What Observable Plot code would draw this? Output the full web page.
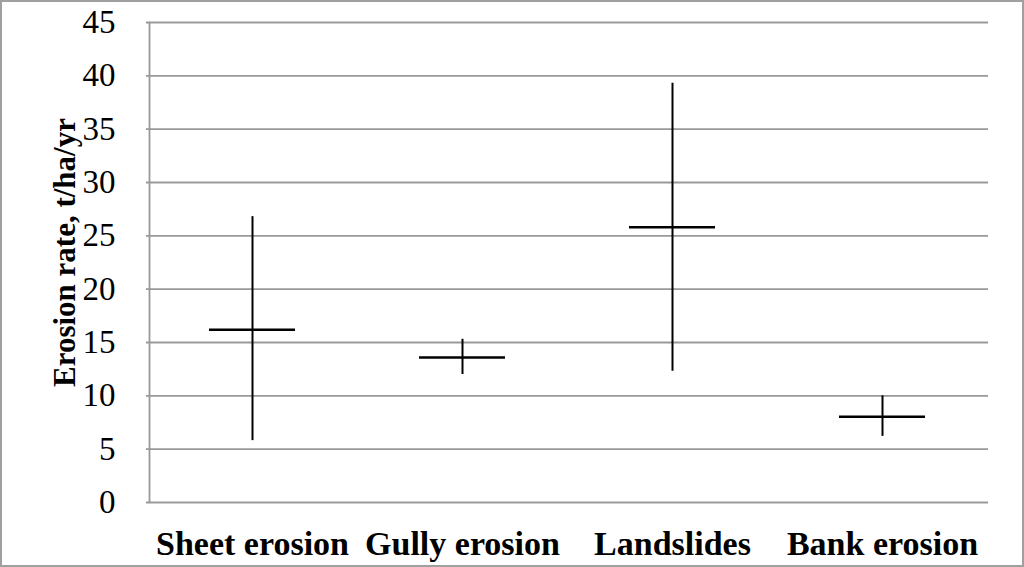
<!DOCTYPE html>
<html>
<head>
<meta charset="utf-8">
<script src="https://cdn.jsdelivr.net/npm/d3@7"></script>
<script src="https://cdn.jsdelivr.net/npm/@observablehq/plot@0.6"></script>
<style>
  html, body { margin: 0; padding: 0; background: #fff; }
  #chart svg { display: block; outline: 2px solid #a0a0a0; outline-offset: -2px; }
  #chart svg text { font-family: "Times New Roman", Times, "Liberation Serif", "DejaVu Serif", serif !important; }
</style>
</head>
<body>
<div id="chart"></div>
<script>
const categories = ["Sheet erosion", "Gully erosion", "Landslides", "Bank erosion"];
const lowValues  = [5.8, 12.0, 12.3, 6.2];
const highValues = [26.8, 15.3, 39.3, 10.0];
const meanValues = [16.2, 13.6, 25.8, 8.05];
const yTicks = [0, 5, 10, 15, 20, 25, 30, 35, 40, 45];
const yTitle = "Erosion rate, t/ha/yr";

const data = categories.map((c, i) => ({category: c, low: lowValues[i], high: highValues[i], mean: meanValues[i]}));
const serif = "'Times New Roman', Times, 'Liberation Serif', serif";

const chart = Plot.plot({
  width: 1024,
  height: 567,
  marginLeft: 146,
  marginRight: 36,
  marginTop: 22,
  marginBottom: 65,
  style: {fontFamily: serif, background: "#fff", color: "#000"},
  x: {domain: categories, padding: 0, label: null},
  y: {domain: [0, 45], ticks: yTicks, label: null},
  marks: [
    Plot.ruleY(yTicks, {stroke: "#999", strokeWidth: 1.8}),
    Plot.ruleX([categories[0]], {x: d => d, y1: 0, y2: 45, stroke: "#999", strokeWidth: 1.8, dx: -103}),
    Plot.axisY({ticks: yTicks, tickSize: 0, tickPadding: 31, fontSize: 33, tickFormat: d => String(d)}),
    Plot.axisX({tickSize: 0, tickPadding: 28, fontSize: 34, fontWeight: "bold"}),
    Plot.ruleX(data, {x: "category", y1: "low", y2: "high", stroke: "#000", strokeWidth: 2}),
    Plot.tickY(data, {x: "category", y: "mean", stroke: "#000", strokeWidth: 2.5, insetLeft: 62, insetRight: 62}),
    Plot.text([yTitle], {text: d => d, frameAnchor: "left", textAnchor: "middle", lineAnchor: "middle", rotate: -90, dx: -81, dy: -10, fontSize: 31, fontWeight: "bold", fill: "#000"})
  ]
});
document.getElementById("chart").appendChild(chart);
</script>
</body>
</html>
